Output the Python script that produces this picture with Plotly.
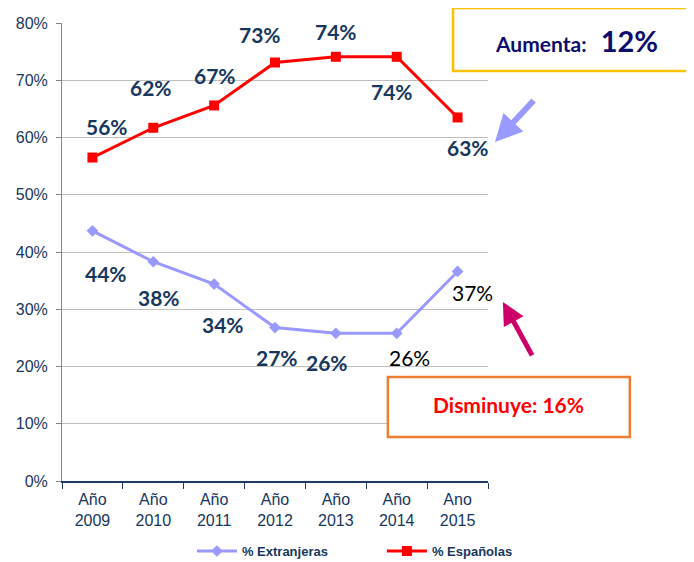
import plotly.graph_objects as go

categories = ["Año<br>2009", "Año<br>2010", "Año<br>2011", "Año<br>2012",
              "Año<br>2013", "Año<br>2014", "Ano<br>2015"]
espanolas = [0.565, 0.617, 0.656, 0.731, 0.741, 0.741, 0.635]
extranjeras = [0.437, 0.383, 0.344, 0.268, 0.258, 0.258, 0.366]
espanolas_labels = ["56%", "62%", "67%", "73%", "74%", "74%", "63%"]
extranjeras_labels = ["44%", "38%", "34%", "27%", "26%", "26%", "37%"]
y_ticks = [0, 0.1, 0.2, 0.3, 0.4, 0.5, 0.6, 0.7, 0.8]
y_tick_labels = ["0%", "10%", "20%", "30%", "40%", "50%", "60%", "70%", "80%"]

# label placement (pixel shifts) and styles
esp_shift = [(15, 31), (-2, 40), (1, 30), (-15, 28), (0, 25), (-5, -35), (10, -30)]
ext_shift = [(14, -43), (6, -36), (9, -40), (2, -30), (-9, -29), (13, -24), (15, -21)]
ext_bold = [True, True, True, True, True, False, False]

NAVY = "#17375E"

fig = go.Figure()
fig.add_trace(go.Scatter(
    x=categories, y=extranjeras, name="% Extranjeras", mode="lines+markers",
    line=dict(color="#9999FF", width=3),
    marker=dict(symbol="diamond", size=9, color="#9999FF"),
    hoverinfo="skip"))
fig.add_trace(go.Scatter(
    x=categories, y=espanolas, name="% Españolas", mode="lines+markers",
    line=dict(color="#FF0000", width=3),
    marker=dict(symbol="square", size=10, color="#FF0000"),
    hoverinfo="skip"))

annotations = []
for c, v, t, (dx, dy) in zip(categories, espanolas, espanolas_labels, esp_shift):
    annotations.append(dict(x=c, y=v, text=f"<b>{t}</b>", showarrow=False,
                            xshift=dx, yshift=dy,
                            font=dict(family="Lato", size=21, color=NAVY)))
for c, v, t, (dx, dy), b in zip(categories, extranjeras, extranjeras_labels, ext_shift, ext_bold):
    annotations.append(dict(x=c, y=v, text=f"<b>{t}</b>" if b else t, showarrow=False,
                            xshift=dx, yshift=dy,
                            font=dict(family="Lato", size=21, color=NAVY if b else "#000000")))

# callout texts
annotations.append(dict(xref="paper", yref="paper", x=1.207, y=0.962, showarrow=False,
                        xanchor="center", yanchor="middle",
                        text="<b><span style='font-size:21px'>Aumenta:</span>  12%</b>",
                        font=dict(family="Lato", size=29, color="#0D0D6B")))
annotations.append(dict(xref="paper", yref="paper", x=1.049, y=0.166, showarrow=False,
                        xanchor="center", yanchor="middle",
                        text="<b>Disminuye: 16%</b>",
                        font=dict(family="Lato", size=21, color="#FF0000")))
# arrows
annotations.append(dict(xref="paper", yref="paper", x=1.0164, y=0.740, ax=40, ay=-43,
                        showarrow=True, arrowhead=2, arrowsize=0.9, arrowwidth=6,
                        arrowcolor="#9999FF", text=""))
annotations.append(dict(xref="paper", yref="paper", x=1.035, y=0.391, ax=30, ay=55,
                        showarrow=True, arrowhead=2, arrowsize=0.9, arrowwidth=5,
                        arrowcolor="#CC0066", text=""))

shapes = [
    dict(type="rect", xref="paper", yref="paper", x0=0.918, x1=1.479, y0=0.895, y1=1.033,
         line=dict(color="#FFC000", width=2.5), fillcolor="white", layer="above"),
    dict(type="rect", xref="paper", yref="paper", x0=0.765, x1=1.333, y0=0.096, y1=0.227,
         line=dict(color="#ED7D31", width=2.5), fillcolor="white", layer="above"),
]

fig.update_layout(
    width=694, height=562,
    margin=dict(l=54, r=214, t=15, b=89, autoexpand=False),
    paper_bgcolor="white", plot_bgcolor="white",
    showlegend=True,
    legend=dict(orientation="h", x=0.305, xanchor="left", y=-0.153, yanchor="middle",
                font=dict(family="Liberation Sans", size=13, color=NAVY, weight="bold"),
                entrywidth=135, entrywidthmode="pixels", itemwidth=40,
                bgcolor="rgba(0,0,0,0)"),
    annotations=annotations,
    shapes=shapes,
    xaxis=dict(type="category", range=[-0.5, 6.5], showgrid=False, automargin=False,
               showline=True, linecolor="#1F3864", linewidth=1.5,
               ticks="outside", tickson="boundaries", ticklen=6, tickcolor="#1F3864",
               ticklabelstandoff=3,
               tickfont=dict(family="Liberation Sans", size=16, color=NAVY, lineposition="none")),
    yaxis=dict(range=[0, 0.8], tickvals=y_ticks, ticktext=y_tick_labels, automargin=False,
               showgrid=True, gridcolor="#BFBFBF", gridwidth=1,
               showline=True, linecolor="#868686", linewidth=1,
               ticks="outside", ticklen=5, tickcolor="#868686", zeroline=False,
               ticklabelstandoff=5,
               tickfont=dict(family="Liberation Sans", size=16, color=NAVY)),
)

fig.write_html("out.html")
